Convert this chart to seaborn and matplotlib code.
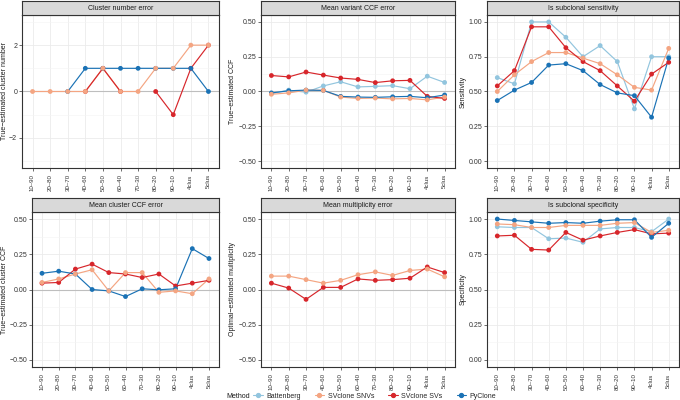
import numpy as np
import pandas as pd
import matplotlib
matplotlib.use('Agg')
import matplotlib.pyplot as plt
from matplotlib.lines import Line2D
import seaborn as sns

nan = np.nan

# Category labels on the x axis
categories = ['10–90', '20–80', '30–70', '40–60', '50–50', '60–40',
              '70–30', '80–20', '90–10', '4clus', '5clus']
methods = ['Battenberg', 'SVclone SNVs', 'SVclone SVs', 'PyClone']
colors = {'Battenberg': '#92C5DE', 'SVclone SNVs': '#F4A582',
          'SVclone SVs': '#D7262B', 'PyClone': '#1A72B5'}

# Cluster number error
clnum_snv = [0, 0, 0, 0, 1, 0, 0, 1, 1, 2, 2]
clnum_sv = [nan, nan, nan, 0, 1, 0, nan, 0, -1, 1, 2]
clnum_pyc = [nan, nan, 0, 1, 1, 1, 1, 1, 1, 1, 0]

# Mean variant CCF error
vccf_bb = [-0.015, 0.01, -0.005, 0.04, 0.07, 0.033, 0.037, 0.042, 0.02, 0.11, 0.065]
vccf_snv = [-0.02, -0.01, 0.01, 0.008, -0.04, -0.05, -0.047, -0.053, -0.05, -0.06, -0.04]
vccf_sv = [0.115, 0.105, 0.14, 0.118, 0.097, 0.087, 0.064, 0.077, 0.08, -0.035, -0.05]
vccf_pyc = [-0.01, 0.005, 0.01, 0.008, -0.035, -0.04, -0.042, -0.038, -0.035, -0.045, -0.025]

# Is subclonal sensitivity
sens_bb = [0.60, 0.555, 1.0, 1.0, 0.89, 0.75, 0.83, 0.715, 0.375, 0.75, 0.75]
sens_snv = [0.50, 0.62, 0.715, 0.78, 0.78, 0.74, 0.70, 0.62, 0.53, 0.51, 0.81]
sens_sv = [0.54, 0.65, 0.965, 0.965, 0.815, 0.715, 0.65, 0.54, 0.43, 0.625, 0.71]
sens_pyc = [0.435, 0.51, 0.565, 0.69, 0.70, 0.65, 0.55, 0.49, 0.47, 0.315, 0.74]

# Mean cluster CCF error
cccf_snv = [0.05, 0.075, 0.11, 0.14, -0.01, 0.12, 0.12, -0.02, -0.01, -0.03, 0.075]
cccf_sv = [0.045, 0.05, 0.145, 0.18, 0.12, 0.11, 0.085, 0.11, 0.025, 0.045, 0.065]
cccf_pyc = [0.115, 0.13, 0.11, 0.0, -0.01, -0.05, 0.005, -0.002, 0.005, 0.29, 0.22]

# Mean multiplicity error
mult_snv = [0.095, 0.095, 0.07, 0.045, 0.065, 0.105, 0.125, 0.1, 0.135, 0.145, 0.09]
mult_sv = [0.045, 0.01, -0.07, 0.015, 0.015, 0.075, 0.065, 0.07, 0.08, 0.16, 0.12]

# Is subclonal specificity
spec_bb = [0.945, 0.94, 0.94, 0.86, 0.865, 0.835, 0.93, 0.94, 0.94, 0.91, 1.0]
spec_snv = [0.965, 0.96, 0.94, 0.94, 0.955, 0.955, 0.955, 0.97, 0.975, 0.905, 0.92]
spec_sv = [0.88, 0.885, 0.785, 0.78, 0.905, 0.85, 0.88, 0.905, 0.925, 0.895, 0.90]
spec_pyc = [1.0, 0.99, 0.98, 0.97, 0.975, 0.97, 0.985, 0.995, 0.995, 0.87, 0.97]

ccf_ticks = [-0.5, -0.25, 0, 0.25, 0.5]
ccf_minor = [-0.375, -0.125, 0.125, 0.375]
prop_ticks = [0, 0.25, 0.5, 0.75, 1.0]
prop_minor = [0.125, 0.375, 0.625, 0.875]

panels = [
    ('Cluster number error', 'True−estimated cluster number',
     {'SVclone SNVs': clnum_snv, 'SVclone SVs': clnum_sv, 'PyClone': clnum_pyc},
     (-3.3, 3.3), [-2, 0, 2], [-3, -1, 1, 3], True),
    ('Mean variant CCF error', 'True−estimated CCF',
     {'Battenberg': vccf_bb, 'SVclone SNVs': vccf_snv, 'SVclone SVs': vccf_sv, 'PyClone': vccf_pyc},
     (-0.55, 0.55), ccf_ticks, ccf_minor, True),
    ('Is subclonal sensitivity', 'Sensitivity',
     {'Battenberg': sens_bb, 'SVclone SNVs': sens_snv, 'SVclone SVs': sens_sv, 'PyClone': sens_pyc},
     (-0.05, 1.05), prop_ticks, prop_minor, False),
    ('Mean cluster CCF error', 'True−estimated cluster CCF',
     {'SVclone SNVs': cccf_snv, 'SVclone SVs': cccf_sv, 'PyClone': cccf_pyc},
     (-0.55, 0.55), ccf_ticks, ccf_minor, True),
    ('Mean multiplicity error', 'Optimal−estimated multiplicity',
     {'SVclone SNVs': mult_snv, 'SVclone SVs': mult_sv},
     (-0.55, 0.55), ccf_ticks, ccf_minor, True),
    ('Is subclonal specificity', 'Specificity',
     {'Battenberg': spec_bb, 'SVclone SNVs': spec_snv, 'SVclone SVs': spec_sv, 'PyClone': spec_pyc},
     (-0.05, 1.05), prop_ticks, prop_minor, False),
]

sns.set_style('white')
plt.rcParams['font.family'] = ['Liberation Sans', 'DejaVu Sans']

W, H = 680, 400
fig = plt.figure(figsize=(6.8, 4.0), dpi=100)

# panel boxes in pixels: left, width, ylabel centre x
boxes = [(22, 197, 5), (261, 194, 232), (487, 192, 463),
         (32, 187, 5), (261, 194, 232), (487, 192, 463)]
row_pos = [(1, 15, 168), (198, 212, 367)]  # strip top, panel top, panel bottom

line_order = ['Battenberg', 'SVclone SNVs', 'SVclone SVs', 'PyClone']
point_order = ['Battenberg', 'SVclone SVs', 'PyClone', 'SVclone SNVs']
FS = 5


def long_form(series):
    rows = []
    for m, vals in series.items():
        seg = 0
        prev_nan = True
        for i, v in enumerate(vals):
            if np.isnan(v):
                prev_nan = True
                continue
            if prev_nan:
                seg += 1
            prev_nan = False
            rows.append({'Method': m, 'x': i, 'y': v, 'seg': f'{m}_{seg}'})
    return pd.DataFrame(rows)


for k, (title, ylabel, series, ylim, yt, ymt, hline) in enumerate(panels):
    r = k // 3
    left, width, lab_x = boxes[k]
    stop, ptop, pbot = row_pos[r]
    ax = fig.add_axes([left / W, 1 - pbot / H, width / W, (pbot - ptop) / H])
    sax = fig.add_axes([left / W, 1 - ptop / H, width / W, (ptop - stop) / H])
    sax.set_facecolor('#D9D9D9')
    sax.set_xticks([])
    sax.set_yticks([])
    for s in sax.spines.values():
        s.set_color('#333333')
        s.set_linewidth(0.8)
    sax.text(0.5, 0.48, title, ha='center', va='center', fontsize=FS,
             color='#1A1A1A', transform=sax.transAxes)

    df = long_form(series)
    ax.set_xlim(-0.6, len(categories) - 0.4)
    ax.set_ylim(*ylim)
    ax.set_xticks(range(len(categories)))
    ax.set_yticks(yt)
    ax.set_yticks(ymt, minor=True)
    ax.grid(True, which='major', color='#EBEBEB', linewidth=0.6)
    ax.grid(True, which='minor', axis='y', color='#F4F4F4', linewidth=0.4)
    ax.set_axisbelow(True)
    if hline:
        ax.axhline(0, color='#BEBEBE', linewidth=0.8, zorder=1.5)

    hue_l = [m for m in line_order if m in series]
    sns.lineplot(data=df, x='x', y='y', hue='Method', units='seg', estimator=None,
                 hue_order=hue_l, palette=colors, linewidth=0.85, legend=False,
                 sort=True, ax=ax, zorder=2)
    df_pts = pd.concat([df[df['Method'] == m] for m in point_order if m in series])
    sns.scatterplot(data=df_pts, x='x', y='y', hue='Method', palette=colors,
                    s=12, linewidth=0, legend=False, ax=ax, zorder=3)

    ax.set_xticklabels(categories, rotation=90, fontsize=4.4)
    if ylim[1] > 2:
        ax.set_yticklabels([f'{v:d}'.replace('-', '−') for v in yt], fontsize=FS)
    else:
        ax.set_yticklabels([f'{v:.2f}'.replace('-', '−') for v in yt], fontsize=FS)
    ax.set_xlabel('')
    ax.set_ylabel(ylabel, fontsize=FS, color='#1A1A1A')
    ax.yaxis.set_label_coords((lab_x + 3.5 - left) / width, 0.5)
    ax.tick_params(axis='both', which='major', length=2, width=0.5, color='#333333',
                   labelcolor='#333333', pad=1.5, bottom=True, left=True)
    ax.tick_params(axis='x', which='major', pad=2.5)
    ax.tick_params(axis='y', which='minor', length=0)
    for s in ax.spines.values():
        s.set_color('#333333')
        s.set_linewidth(0.8)

handles = [Line2D([0], [0], color=colors[m], marker='o', markersize=2.8, linewidth=0.8)
           for m in methods]
fig.text(226 / W, 1 - 396 / H, 'Method', fontsize=FS, va='center', ha='left', color='#1A1A1A')
fig.legend(handles, methods, loc='center left', bbox_to_anchor=(253 / W, 1 - 396 / H),
           ncol=4, frameon=False, fontsize=FS, handlelength=1.4, handletextpad=0.5,
           columnspacing=2.0, borderaxespad=0, borderpad=0)

fig.savefig('out.png', dpi=100)
